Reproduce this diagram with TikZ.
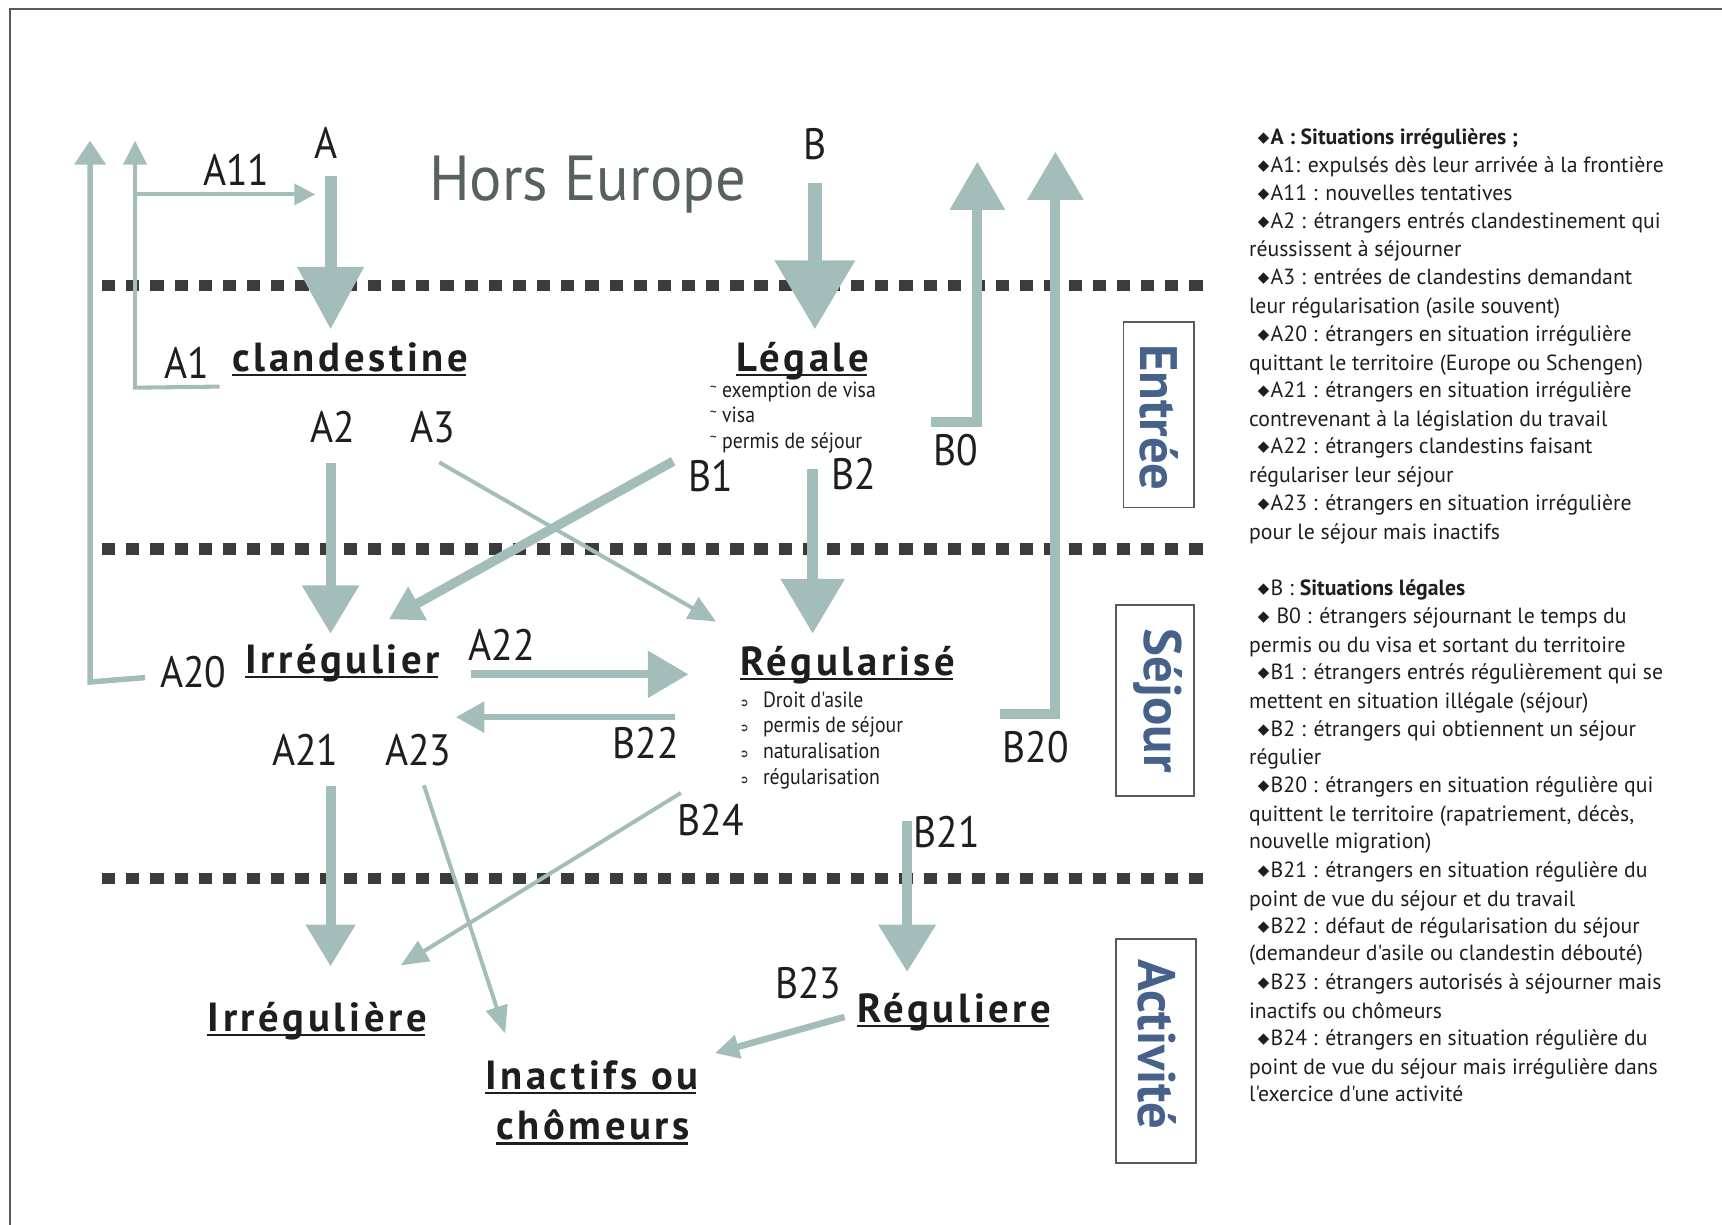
\documentclass[tikz,border=0pt]{standalone}
\usepackage{fontspec}
\setmainfont{PT Sans}
\newfontfamily\lblfont{PT Sans}[FakeStretch=0.9]
\newfontfamily\horsfont{PT Sans}[FakeStretch=0.95]
\newfontfamily\ttlfont{PT Sans}[LetterSpace=9]
\newfontfamily\smfont{PT Sans}[FakeStretch=0.9]
\newfontfamily\legfont{PT Sans}[FakeStretch=0.99]
\newfontfamily\symfont{DejaVu Sans}
\usetikzlibrary{arrows.meta}
\definecolor{arrc}{HTML}{A3BDBB}
\definecolor{dotc}{HTML}{3B3B3B}
\definecolor{framec}{HTML}{5A5A5A}
\definecolor{bluec}{HTML}{46618A}
\definecolor{horsc}{HTML}{56625F}
\definecolor{txtc}{HTML}{1E1E1E}
\newcommand\dia{{\symfont\fontsize{6.8}{6.8}\selectfont\raisebox{1pt}{◆}}\kern0.6pt}
\newcommand\regb{{\symfont\fontsize{5}{5}\selectfont\raisebox{0.5pt}{➲}}}
\newcommand\legb{{\fontsize{7}{7}\selectfont\raisebox{2.5pt}{\textasciitilde}}}
\newcommand\lgl[4]{\node[leg] (#1) at (#2,#3) {#4};}
\begin{document}
\begin{tikzpicture}[x=0.5pt,y=-0.5pt,
  lbl/.style={inner sep=0pt, font=\lblfont\fontsize{20}{22}\selectfont, text=txtc},
  ttl/.style={inner sep=0pt, anchor=base, font=\ttlfont\bfseries\fontsize{18.5}{22}\selectfont, text=txtc},
  ul/.style={draw=txtc, line width=1pt},
  sm/.style={inner sep=0pt, anchor=base west, font=\smfont\fontsize{10}{12}\selectfont, text=txtc},
  leg/.style={inner sep=0pt, anchor=base west, font=\legfont\fontsize{10}{12}\selectfont, text=txtc},
  dots/.style={draw=dotc, line width=5.3pt, dash pattern=on 6pt off 5pt},
  ar/.style n args={3}{draw=arrc, line width=#1, -{Triangle[length=#2,width=#3]}},
  boxs/.style={draw=framec, line width=0.7pt, inner sep=0pt},
  rot/.style={rotate=-90, inner sep=0pt, text=bluec, font=\bfseries\fontsize{24}{28}\selectfont}
]
\useasboundingbox (0,0) rectangle (1568,1115);
% frame
\draw[framec, line width=0.9pt] (9,1115) -- (9,8) -- (1568,8);

% dotted separators
\coordinate (d1s) at (93,260); \coordinate (d1e) at (1104,260);
\coordinate (d2s) at (93,500); \coordinate (d2e) at (1104,500);
\coordinate (d3s) at (93,800); \coordinate (d3e) at (1104,800);
\draw[dots] (d1s) -- (d1e);
\draw[dots] (d2s) -- (d2e);
\draw[dots] (d3s) -- (d3e);

% title
\node[inner sep=0pt, anchor=base, text=horsc, font=\horsfont\fontsize{29}{32}\selectfont] (hors) at (535,183) {Hors Europe};

% labels
\node[lbl] (lA) at (297,130) {A};
\node[lbl] (lA11) at (215,155) {A11};
\node[lbl] (lB) at (742,131) {B};
\node[lbl] (lA1) at (170,330) {A1};
\node[lbl] (lA2) at (303,389) {A2};
\node[lbl] (lA3) at (394,389) {A3};
\node[lbl] (lB1) at (647,433) {B1};
\node[lbl] (lB2) at (777,432) {B2};
\node[lbl] (lB0) at (870,410) {B0};
\node[lbl] (lA20) at (176,612) {A20};
\node[lbl] (lA22) at (457,587) {A22};
\node[lbl] (lA21) at (278,683) {A21};
\node[lbl] (lA23) at (381,683) {A23};
\node[lbl] (lB22) at (588,677) {B22};
\node[lbl] (lB20) at (943,680) {B20};
\node[lbl] (lB24) at (647,747) {B24};
\node[lbl] (lB21) at (862,758) {B21};
\node[lbl] (lB23) at (736,895) {B23};

% titles (underlined)
\node[ttl] (clan) at (319,338) {clandestine};
\node[ttl] (leg) at (731,338) {Légale};
\node[ttl] (irr) at (312,613) {Irrégulier};
\node[ttl] (reg) at (772,615) {Régularisé};
\node[ttl] (irre) at (289,939) {Irrégulière};
\node[ttl] (regu) at (869,931) {Réguliere};
\node[ttl] (inac) at (539,992) {Inactifs ou};
\node[ttl] (chom) at (540,1038) {chômeurs};
\foreach \n in {clan,leg,irr,reg,irre,regu,inac,chom}
  \draw[ul] ([yshift=-1.6pt]\n.base west) -- ([yshift=-1.6pt,xshift=-1.3pt]\n.base east);

% sub-lists
\node[sm] (lg1) at (646,362) {\legb\ exemption de visa};
\node[sm] (lg2) at (646,385) {\legb\ visa};
\node[sm] (lg3) at (646,408) {\legb\ permis de séjour};
\node[sm] (rg1) at (673,644) {\regb\hspace{6.5pt}Droit d'asile};
\node[sm] (rg2) at (673,667) {\regb\hspace{6.5pt}permis de séjour};
\node[sm] (rg3) at (673,691) {\regb\hspace{6.5pt}naturalisation};
\node[sm] (rg4) at (673,714) {\regb\hspace{6.5pt}régularisation};

% right boxes
\node[boxs, minimum width=32pt, minimum height=84.5pt] (bE) at (1055,377.5) {};
\node[rot] (tE) at (1055,380) {Entrée};
\node[boxs, minimum width=35.5pt, minimum height=87pt] (bS) at (1051.5,638) {};
\node[rot] (tS) at (1054,638) {Séjour};
\node[boxs, minimum width=36.5pt, minimum height=102pt] (bA) at (1052.5,957) {};
\node[rot] (tA) at (1054,951) {Activité};

% arrows
\coordinate (aS) at (301,160); \coordinate (aE) at (301,300);
\draw[ar={5.5pt}{28.5pt}{29pt}] (aS) -- (aE);
\coordinate (bS0) at (742,167); \coordinate (bE0) at (742,300);
\draw[ar={6.5pt}{31.5pt}{35pt}] (bS0) -- (bE0);
\coordinate (a1s) at (200,352); \coordinate (a1c) at (123,353); \coordinate (a1e) at (123,128);
\draw[ar={1.85pt}{11pt}{10.5pt}] (a1s) -- (a1c) -- (a1e);
\coordinate (a11s) at (123,177); \coordinate (a11e) at (287,177);
\draw[ar={1.85pt}{9.5pt}{9.5pt}] (a11s) -- (a11e);
\coordinate (a20s) at (132,617); \coordinate (a20c) at (82,621); \coordinate (a20e) at (82,128);
\draw[ar={2.5pt}{11pt}{14pt}] (a20s) -- (a20c) -- (a20e);
\coordinate (b0s) at (848,384); \coordinate (b0c) at (890,384); \coordinate (b0e) at (890,147);
\draw[ar={4.5pt}{22pt}{24pt}, line join=miter] (b0s) -- (b0c) -- (b0e);
\coordinate (b20s) at (911,650); \coordinate (b20c) at (961,650); \coordinate (b20e) at (961,138);
\draw[ar={4.5pt}{22pt}{24.5pt}, line join=miter] (b20s) -- (b20c) -- (b20e);
\coordinate (a2s) at (301,422); \coordinate (a2e) at (301,577);
\draw[ar={4.5pt}{22pt}{25pt}] (a2s) -- (a2e);
\coordinate (a3s) at (400,421); \coordinate (a3e) at (652,566);
\draw[ar={1.8pt}{12.5pt}{11pt}] (a3s) -- (a3e);
\coordinate (b1s) at (613,420); \coordinate (b1e) at (354,564);
\draw[ar={4.3pt}{15pt}{16.5pt}] (b1s) -- (b1e);
\coordinate (b2s) at (740,427); \coordinate (b2e) at (740,577);
\draw[ar={5pt}{25pt}{28pt}] (b2s) -- (b2e);
\coordinate (a22s) at (429,614); \coordinate (a22e) at (627,614);
\draw[ar={3.8pt}{18.5pt}{20.5pt}] (a22s) -- (a22e);
\coordinate (b22s) at (615,653); \coordinate (b22e) at (415,653);
\draw[ar={3pt}{13pt}{13.5pt}] (b22s) -- (b22e);
\coordinate (a21s) at (301,716); \coordinate (a21e) at (301,880);
\draw[ar={4.5pt}{19pt}{21.5pt}] (a21s) -- (a21e);
\coordinate (a23s) at (386,715); \coordinate (a23e) at (460,941);
\draw[ar={1.8pt}{12.5pt}{10pt}] (a23s) -- (a23e);
\coordinate (b24s) at (620,722); \coordinate (b24e) at (365,879);
\draw[ar={1.8pt}{12.5pt}{10.5pt}] (b24s) -- (b24e);
\coordinate (b21s) at (826,748); \coordinate (b21e) at (826,885);
\draw[ar={4.8pt}{21.5pt}{25pt}] (b21s) -- (b21e);
\coordinate (b23s) at (769,926); \coordinate (b23e) at (651,959);
\draw[ar={3pt}{11pt}{10.5pt}] (b23s) -- (b23e);

% legend
\lgl{l1}{1145}{132}{\dia\textbf{A : Situations irrégulières ;}}
\lgl{l2}{1145}{157}{\dia A1: expulsés dès leur arrivée à la frontière}
\lgl{l3}{1145}{183}{\dia A11 : nouvelles tentatives}
\lgl{l4}{1145}{208}{\dia A2 : étrangers entrés clandestinement qui}
\lgl{l5}{1137}{234}{réussissent à séjourner}
\lgl{l6}{1145}{259}{\dia A3 : entrées de clandestins demandant}
\lgl{l7}{1137}{285}{leur régularisation (asile souvent)}
\lgl{l8}{1145}{311}{\dia A20 : étrangers en situation irrégulière}
\lgl{l9}{1137}{337}{quittant le territoire (Europe ou Schengen)}
\lgl{l10}{1145}{362}{\dia A21 : étrangers en situation irrégulière}
\lgl{l11}{1137}{388}{contrevenant à la législation du travail}
\lgl{l12}{1145}{413}{\dia A22 : étrangers clandestins faisant}
\lgl{l13}{1137}{439}{régulariser leur séjour}
\lgl{l14}{1145}{465}{\dia A23 : étrangers en situation irrégulière}
\lgl{l15}{1137}{491}{pour le séjour mais inactifs}
\lgl{m1}{1145}{542}{\dia B : \textbf{Situations légales}}
\lgl{m2}{1145}{568}{\dia\ B0 : étrangers séjournant le temps du}
\lgl{m3}{1137}{594}{permis ou du visa et sortant du territoire}
\lgl{m4}{1145}{619}{\dia B1 : étrangers entrés régulièrement qui se}
\lgl{m5}{1137}{645}{mettent en situation illégale (séjour)}
\lgl{m6}{1145}{671}{\dia B2 : étrangers qui obtiennent un séjour}
\lgl{m7}{1137}{696}{régulier}
\lgl{m8}{1145}{722}{\dia B20 : étrangers en situation régulière qui}
\lgl{m9}{1137}{748}{quittent le territoire (rapatriement, décès,}
\lgl{m10}{1137}{773}{nouvelle migration)}
\lgl{m11}{1145}{799}{\dia B21 : étrangers en situation régulière du}
\lgl{m12}{1137}{825}{point de vue du séjour et du travail}
\lgl{m13}{1145}{850}{\dia B22 : défaut de régularisation du séjour}
\lgl{m14}{1137}{875}{(demandeur d'asile ou clandestin débouté)}
\lgl{m15}{1145}{901}{\dia B23 : étrangers autorisés à séjourner mais}
\lgl{m16}{1137}{927}{inactifs ou chômeurs}
\lgl{m17}{1145}{952}{\dia B24 : étrangers en situation régulière du}
\lgl{m18}{1137}{978}{point de vue du séjour mais irrégulière dans}
\lgl{m19}{1137}{1003}{l'exercice d'une activité}
\end{tikzpicture}
\end{document}
